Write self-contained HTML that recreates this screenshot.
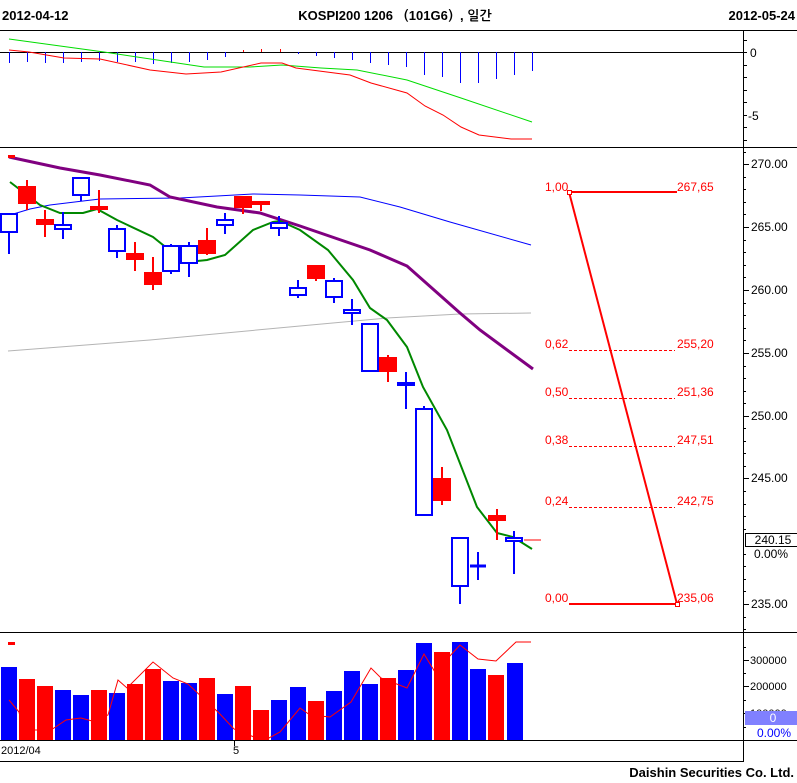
<!DOCTYPE html>
<html><head><meta charset="utf-8"><style>
html,body{margin:0;padding:0;background:#fff;}
svg{display:block;font-family:"Liberation Sans","NanumGothic",sans-serif;}
</style></head><body>
<svg width="797" height="783" viewBox="0 0 797 783" xmlns="http://www.w3.org/2000/svg">
<rect width="797" height="783" fill="#fff"/>
<!-- header -->
<text x="2" y="20" font-size="13" font-weight="bold">2012-04-12</text>
<text x="395" y="20" font-size="13" font-weight="bold" text-anchor="middle">KOSPI200 1206 （101G6）, 일간</text>
<text x="795" y="20" font-size="13" font-weight="bold" text-anchor="end">2012-05-24</text>
<!-- frame lines -->
<g stroke="#000" stroke-width="1" shape-rendering="crispEdges">
<line x1="0" y1="30.5" x2="797" y2="30.5"/>
<line x1="0" y1="147.5" x2="797" y2="147.5"/>
<line x1="0" y1="632.5" x2="797" y2="632.5"/>
<line x1="0" y1="740.5" x2="797" y2="740.5"/>
<line x1="0" y1="761.5" x2="743" y2="761.5"/>
<line x1="743.5" y1="30" x2="743.5" y2="762"/>
<line x1="0" y1="52.5" x2="743" y2="52.5"/>
<line x1="234.5" y1="740" x2="234.5" y2="746"/>
</g>
<!-- top panel ticks -->
<g stroke="#000" shape-rendering="crispEdges">
<line x1="743" y1="40.5" x2="747" y2="40.5"/><line x1="743" y1="52.5" x2="747" y2="52.5"/>
<line x1="743" y1="65.5" x2="747" y2="65.5"/><line x1="743" y1="77.5" x2="747" y2="77.5"/>
<line x1="743" y1="90.5" x2="747" y2="90.5"/><line x1="743" y1="102.5" x2="747" y2="102.5"/>
<line x1="743" y1="115.5" x2="747" y2="115.5"/><line x1="743" y1="127.5" x2="747" y2="127.5"/>
<line x1="743" y1="140.5" x2="747" y2="140.5"/>
</g>
<text x="750" y="57" font-size="12">0</text>
<text x="748" y="120" font-size="12">-5</text>
<!-- top histogram -->
<g stroke="#0000ff" stroke-width="1" shape-rendering="crispEdges">
<line x1="9.5" y1="52" x2="9.5" y2="63"/><line x1="27.5" y1="52" x2="27.5" y2="62"/>
<line x1="45.5" y1="52" x2="45.5" y2="63"/><line x1="63.5" y1="52" x2="63.5" y2="63"/>
<line x1="81.5" y1="52" x2="81.5" y2="62"/><line x1="99.5" y1="52" x2="99.5" y2="61"/>
<line x1="117.5" y1="52" x2="117.5" y2="62"/><line x1="135.5" y1="52" x2="135.5" y2="62"/>
<line x1="153.5" y1="52" x2="153.5" y2="64"/><line x1="171.5" y1="52" x2="171.5" y2="63"/>
<line x1="189.5" y1="52" x2="189.5" y2="62"/><line x1="207.5" y1="52" x2="207.5" y2="60"/>
<line x1="225.5" y1="52" x2="225.5" y2="57"/>
<line x1="298.5" y1="52" x2="298.5" y2="54"/><line x1="316.5" y1="52" x2="316.5" y2="56"/>
<line x1="334.5" y1="52" x2="334.5" y2="58"/><line x1="352.5" y1="52" x2="352.5" y2="60"/>
<line x1="370.5" y1="52" x2="370.5" y2="63"/><line x1="388.5" y1="52" x2="388.5" y2="65"/>
<line x1="406.5" y1="52" x2="406.5" y2="67"/><line x1="424.5" y1="52" x2="424.5" y2="75"/>
<line x1="442.5" y1="52" x2="442.5" y2="77"/><line x1="460.5" y1="52" x2="460.5" y2="83"/>
<line x1="478.5" y1="52" x2="478.5" y2="83"/><line x1="496.5" y1="52" x2="496.5" y2="79"/>
<line x1="514.5" y1="52" x2="514.5" y2="75"/><line x1="532.5" y1="52" x2="532.5" y2="71"/>
</g>
<g stroke="#ff0000" shape-rendering="crispEdges">
<line x1="243.5" y1="50" x2="243.5" y2="52"/><line x1="261.5" y1="49" x2="261.5" y2="52"/><line x1="280.5" y1="49" x2="280.5" y2="52"/>
</g>
<polyline fill="none" stroke="#00dd00" stroke-width="1" points="9,39 104,52 204,67 250,67 282,65 321,68 357,70 407,80 461,98 532,122"/>
<polyline fill="none" stroke="#ff0000" stroke-width="1" points="9,50 29,52 64,58 100,59 150,70 186,74 221,72 261,63 282,63 296,68 350,75 371,83 407,93 425,106 443,115 461,127 479,135 511,139 532,139"/>
<!-- price axis -->
<g stroke="#000" shape-rendering="crispEdges">
<line x1="743" y1="164.5" x2="749" y2="164.5"/><line x1="743" y1="227.5" x2="749" y2="227.5"/>
<line x1="743" y1="290.5" x2="749" y2="290.5"/><line x1="743" y1="353.5" x2="749" y2="353.5"/>
<line x1="743" y1="416.5" x2="749" y2="416.5"/><line x1="743" y1="478.5" x2="749" y2="478.5"/>
<line x1="743" y1="604.5" x2="749" y2="604.5"/>
<line x1="743" y1="152.5" x2="746" y2="152.5"/><line x1="743" y1="177.5" x2="746" y2="177.5"/><line x1="743" y1="189.5" x2="746" y2="189.5"/><line x1="743" y1="202.5" x2="746" y2="202.5"/><line x1="743" y1="214.5" x2="746" y2="214.5"/>
<line x1="743" y1="240.5" x2="746" y2="240.5"/><line x1="743" y1="252.5" x2="746" y2="252.5"/><line x1="743" y1="265.5" x2="746" y2="265.5"/><line x1="743" y1="277.5" x2="746" y2="277.5"/>
<line x1="743" y1="303.5" x2="746" y2="303.5"/><line x1="743" y1="315.5" x2="746" y2="315.5"/><line x1="743" y1="328.5" x2="746" y2="328.5"/><line x1="743" y1="340.5" x2="746" y2="340.5"/>
<line x1="743" y1="366.5" x2="746" y2="366.5"/><line x1="743" y1="378.5" x2="746" y2="378.5"/><line x1="743" y1="391.5" x2="746" y2="391.5"/><line x1="743" y1="403.5" x2="746" y2="403.5"/>
<line x1="743" y1="428.5" x2="746" y2="428.5"/><line x1="743" y1="441.5" x2="746" y2="441.5"/><line x1="743" y1="453.5" x2="746" y2="453.5"/><line x1="743" y1="466.5" x2="746" y2="466.5"/>
<line x1="743" y1="491.5" x2="746" y2="491.5"/><line x1="743" y1="504.5" x2="746" y2="504.5"/><line x1="743" y1="516.5" x2="746" y2="516.5"/><line x1="743" y1="529.5" x2="746" y2="529.5"/>
<line x1="743" y1="554.5" x2="746" y2="554.5"/><line x1="743" y1="566.5" x2="746" y2="566.5"/><line x1="743" y1="579.5" x2="746" y2="579.5"/><line x1="743" y1="591.5" x2="746" y2="591.5"/>
<line x1="743" y1="617.5" x2="746" y2="617.5"/><line x1="743" y1="629.5" x2="746" y2="629.5"/>
</g>
<g font-size="12" fill="#000">
<text x="751" y="168">270.00</text><text x="751" y="231">265.00</text><text x="751" y="294">260.00</text>
<text x="751" y="357">255.00</text><text x="751" y="420">250.00</text><text x="751" y="482">245.00</text>
<text x="751" y="608">235.00</text>
</g>
<rect x="745.5" y="533.5" width="52" height="13" fill="#fff" stroke="#000" shape-rendering="crispEdges"/>
<text x="773" y="544" font-size="12" text-anchor="middle">240.15</text>
<text x="771" y="558" font-size="12" text-anchor="middle">0.00%</text>
<!-- gray MA -->
<polyline fill="none" stroke="#b4b4b4" stroke-width="1" points="8,351 150,340 300,326 387,318 460,314 531,313"/>
<!-- blue MA -->
<polyline fill="none" stroke="#0000ff" stroke-width="1" points="10,215 30,209 50,205 83,201 100,199 180,198 217,196 253,194 300,195 360,197 400,207 450,222 531,245"/>
<!-- purple MA -->
<polyline fill="none" stroke="#800080" stroke-width="3" points="9,157 60,168 100,175 150,185 170,197 217,207 260,213 300,226 370,250 407,266 460,313 480,330 533,369"/>
<rect x="8" y="155" width="7" height="3" fill="#ff0000"/>
<!-- green MA -->
<polyline fill="none" stroke="#008800" stroke-width="2" points="10,182 40,205 60,213 83,213 97,209 117,220 153,237 173,253 188,262 207,260 225,255 253,230 273,222 280,221 300,230 328,250 353,280 370,308 387,320 407,347 423,387 447,430 477,507 497,533 513,537 532,549"/>
<!-- candles -->
<g shape-rendering="crispEdges">
<g stroke="#0000ff" stroke-width="2" fill="#fff">
<line x1="9" y1="214" x2="9" y2="254"/><rect x="1" y="214" width="16" height="18"/>
<line x1="63" y1="212" x2="63" y2="239"/><rect x="55" y="225" width="16" height="4"/>
<line x1="81" y1="178" x2="81" y2="201"/><rect x="73" y="178" width="16" height="17"/>
<line x1="117" y1="225" x2="117" y2="258"/><rect x="109" y="229" width="16" height="22"/>
<line x1="171" y1="244" x2="171" y2="274"/><rect x="163" y="246" width="16" height="25"/>
<line x1="189" y1="242" x2="189" y2="277"/><rect x="181" y="246" width="16" height="17"/>
<line x1="225" y1="213" x2="225" y2="234"/><rect x="217" y="220" width="16" height="5"/>
<line x1="279" y1="216" x2="279" y2="236"/><rect x="271" y="223" width="16" height="5"/>
<line x1="298" y1="280" x2="298" y2="298"/><rect x="290" y="288" width="16" height="7"/>
<line x1="334" y1="278" x2="334" y2="303"/><rect x="326" y="281" width="16" height="16"/>
<line x1="352" y1="299" x2="352" y2="325"/><rect x="344" y="310" width="16" height="3"/>
<line x1="370" y1="323" x2="370" y2="371"/><rect x="362" y="324" width="16" height="47"/>
<line x1="406" y1="372" x2="406" y2="409"/><rect x="398" y="383" width="16" height="2"/>
<line x1="424" y1="406" x2="424" y2="515"/><rect x="416" y="409" width="16" height="106"/>
<line x1="460" y1="537" x2="460" y2="604"/><rect x="452" y="538" width="16" height="48"/>
<line x1="478" y1="552" x2="478" y2="580"/><line x1="470" y1="566" x2="486" y2="566" stroke-width="3"/>
<line x1="514" y1="531" x2="514" y2="574"/><rect x="506" y="538" width="16" height="3"/>
</g>
<g stroke="#ff0000" stroke-width="2" fill="#ff0000">
<line x1="27" y1="180" x2="27" y2="210"/><rect x="19" y="187" width="16" height="16"/>
<line x1="45" y1="210" x2="45" y2="237"/><rect x="37" y="220" width="16" height="4"/>
<line x1="99" y1="190" x2="99" y2="213"/><rect x="91" y="207" width="16" height="2"/>
<line x1="135" y1="242" x2="135" y2="271"/><rect x="127" y="254" width="16" height="5"/>
<line x1="153" y1="257" x2="153" y2="290"/><rect x="145" y="273" width="16" height="11"/>
<line x1="207" y1="228" x2="207" y2="255"/><rect x="199" y="241" width="16" height="12"/>
<line x1="243" y1="197" x2="243" y2="214"/><rect x="235" y="197" width="16" height="10"/>
<line x1="261" y1="202" x2="261" y2="211"/><rect x="253" y="202" width="16" height="2"/>
<line x1="316" y1="266" x2="316" y2="281"/><rect x="308" y="266" width="16" height="12"/>
<line x1="388" y1="355" x2="388" y2="382"/><rect x="380" y="358" width="16" height="13"/>
<line x1="442" y1="467" x2="442" y2="505"/><rect x="434" y="479" width="16" height="21"/>
<line x1="497" y1="509" x2="497" y2="540"/><rect x="489" y="516" width="16" height="4"/>
<line x1="524" y1="540" x2="541" y2="540" stroke-width="1"/>
</g>
</g>
<!-- fibonacci -->
<g stroke="#ff0000" fill="none">
<line x1="569" y1="192" x2="677" y2="192" stroke-width="2"/>
<line x1="569" y1="604" x2="677" y2="604" stroke-width="2"/>
<line x1="569" y1="192" x2="677" y2="604" stroke-width="2"/>
<g stroke-dasharray="3,2" stroke-width="1">
<line x1="569" y1="350.5" x2="675" y2="350.5"/>
<line x1="569" y1="398.5" x2="675" y2="398.5"/>
<line x1="569" y1="446.5" x2="675" y2="446.5"/>
<line x1="569" y1="507.5" x2="675" y2="507.5"/>
</g>
<rect x="567.5" y="190.5" width="4" height="4" fill="#fff" stroke-width="1"/>
<rect x="675.5" y="602.5" width="4" height="4" fill="#fff" stroke-width="1"/>
</g>
<g font-size="12" fill="#ff0000">
<text x="545" y="191">1,00</text><text x="677" y="191">267,65</text>
<text x="545" y="348">0,62</text><text x="677" y="348">255,20</text>
<text x="545" y="396">0,50</text><text x="677" y="396">251,36</text>
<text x="545" y="444">0,38</text><text x="677" y="444">247,51</text>
<text x="545" y="505">0,24</text><text x="677" y="505">242,75</text>
<text x="545" y="602">0,00</text><text x="677" y="602">235,06</text>
</g>
<!-- volume -->
<g shape-rendering="crispEdges">
<rect x="1" y="667" width="16" height="73" fill="#0000ff"/>
<rect x="19" y="679" width="16" height="61" fill="#ff0000"/>
<rect x="37" y="686" width="16" height="54" fill="#ff0000"/>
<rect x="55" y="690" width="16" height="50" fill="#0000ff"/>
<rect x="73" y="695" width="16" height="45" fill="#0000ff"/>
<rect x="91" y="690" width="16" height="50" fill="#ff0000"/>
<rect x="109" y="693" width="16" height="47" fill="#0000ff"/>
<rect x="127" y="684" width="16" height="56" fill="#ff0000"/>
<rect x="145" y="669" width="16" height="71" fill="#ff0000"/>
<rect x="163" y="681" width="16" height="59" fill="#0000ff"/>
<rect x="181" y="683" width="16" height="57" fill="#0000ff"/>
<rect x="199" y="678" width="16" height="62" fill="#ff0000"/>
<rect x="217" y="694" width="16" height="46" fill="#0000ff"/>
<rect x="235" y="686" width="16" height="54" fill="#ff0000"/>
<rect x="253" y="710" width="16" height="30" fill="#ff0000"/>
<rect x="271" y="700" width="16" height="40" fill="#0000ff"/>
<rect x="290" y="687" width="16" height="53" fill="#0000ff"/>
<rect x="308" y="701" width="16" height="39" fill="#ff0000"/>
<rect x="326" y="691" width="16" height="49" fill="#0000ff"/>
<rect x="344" y="671" width="16" height="69" fill="#0000ff"/>
<rect x="362" y="684" width="16" height="56" fill="#0000ff"/>
<rect x="380" y="678" width="16" height="62" fill="#ff0000"/>
<rect x="398" y="670" width="16" height="70" fill="#0000ff"/>
<rect x="416" y="643" width="16" height="97" fill="#0000ff"/>
<rect x="434" y="652" width="16" height="88" fill="#ff0000"/>
<rect x="452" y="642" width="16" height="98" fill="#0000ff"/>
<rect x="470" y="669" width="16" height="71" fill="#0000ff"/>
<rect x="488" y="675" width="16" height="65" fill="#ff0000"/>
<rect x="507" y="663" width="16" height="77" fill="#0000ff"/>
</g>
<polyline fill="none" stroke="#ff0000" stroke-width="1" points="9,700 19,712 23,730 51,730 66,720 81,718 92,721 108,715 118,680 127,688 153,662 173,678 188,684 219,713 234,729 254,737 269,738 280,732 300,708 310,715 330,717 351,702 371,668 381,678 407,688 424,654 435,672 460,645 478,659 496,661 516,642 531,642"/>
<rect x="8" y="642" width="7" height="3" fill="#ff0000"/>
<g stroke="#000" shape-rendering="crispEdges">
<line x1="743" y1="647.5" x2="746" y2="647.5"/><line x1="743" y1="660.5" x2="749" y2="660.5"/>
<line x1="743" y1="673.5" x2="746" y2="673.5"/><line x1="743" y1="686.5" x2="749" y2="686.5"/>
<line x1="743" y1="700.5" x2="746" y2="700.5"/><line x1="743" y1="713.5" x2="749" y2="713.5"/>
<line x1="743" y1="727.5" x2="746" y2="727.5"/>
</g>
<g font-size="11" fill="#000">
<text x="750" y="664">300000</text><text x="750" y="690">200000</text><text x="750" y="717">100000</text>
</g>
<rect x="745" y="711" width="52" height="14" fill="#8080ff"/>
<text x="773" y="722" font-size="12" fill="#fff" text-anchor="middle">0</text>
<text x="774" y="737" font-size="12" fill="#0000ff" text-anchor="middle">0.00%</text>
<!-- x labels -->
<text x="1" y="754" font-size="11">2012/04</text>
<text x="233" y="754" font-size="11">5</text>
<text x="794" y="777" font-size="13" font-weight="bold" text-anchor="end">Daishin Securities Co. Ltd.</text>
</svg>
</body></html>
